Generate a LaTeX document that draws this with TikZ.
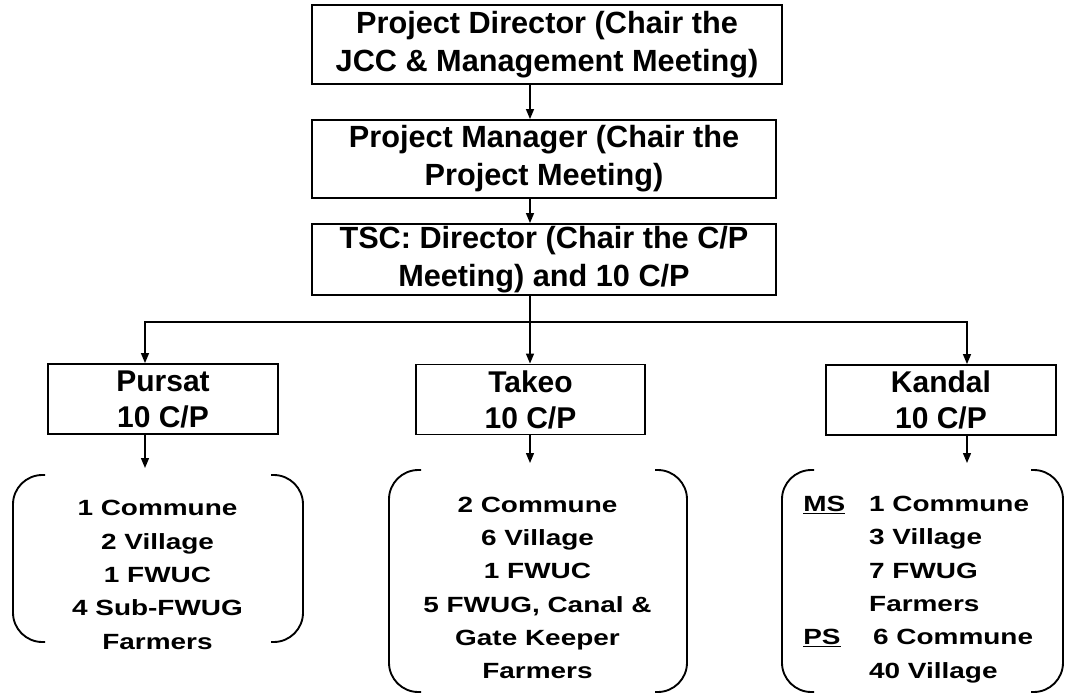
\documentclass[tikz,border=0pt]{standalone}
\usepackage{fontspec}
\setmainfont{Liberation Sans}
\newfontfamily\listfont{Liberation Sans}[FakeStretch=1.27]
\usetikzlibrary{arrows.meta}

% left/right brackets round a list, and the point its arrow ends at
\newcommand{\listbrackets}[5]{%
  \draw[bracket] ({#2+32},#4) -- (#2,#4) -- (#2,#5) -- ({#2+32},#5);
  \draw[bracket] ({#3-32},#4) -- (#3,#4) -- (#3,#5) -- ({#3-32},#5);
  \coordinate (#1) at ({(#2+#3)/2},{#4-7});
}

\tikzset{
  box/.style={draw,line width=1.4pt,align=center,inner sep=0pt,
    font=\bfseries\fontsize{23}{28.5}\selectfont},
  area/.style={box,minimum width=172pt,minimum height=52.5pt,
    font=\bfseries\fontsize{22.5}{27}\selectfont},
  items/.style={align=center,inner sep=0pt,
    font=\listfont\bfseries\fontsize{16.5}{25}\selectfont},
  bracket/.style={line width=1.4pt,rounded corners=22pt},
  arr/.style={-{Triangle[length=7.5pt,width=6pt]},line width=1pt}
}

\begin{document}
\begin{tikzpicture}[x=0.75pt,y=-0.75pt]
\useasboundingbox (0,0) rectangle (1065,694);

% columns of the connectors
\coordinate (left) at (145,0);
\coordinate (spine) at (530,0);
\coordinate (right) at (967,0);
\coordinate (bus) at (530,322);

% chain of command
\node[box,minimum width=352.5pt,minimum height=59.25pt] (director) at (547,44.5)
  {Project Director (Chair the\\JCC \& Management Meeting)};
\node[box,minimum width=348pt,minimum height=58.5pt] (manager) at (544,159)
  {Project Manager (Chair the\\Project Meeting)};
\node[box,minimum width=348pt,minimum height=53.25pt] (tsc) at (544,259.5)
  {TSC: Director (Chair the C/P\\Meeting) and 10 C/P};

% provinces
\node[area] (pursat) at (163,399) {Pursat\\10 C/P};
\node[area] (takeo) at (530.5,399.5) {Takeo\\10 C/P};
\node[area] (kandal) at (941,400) {Kandal\\10 C/P};

% sites
\node[items] (pursatlist) at (157.5,575)
  {1 Commune\\2 Village\\1 FWUC\\4 Sub-FWUG\\Farmers};
\node[items] (takeolist) at (537.5,588)
  {2 Commune\\6 Village\\1 FWUC\\5 FWUG, Canal \&\\Gate Keeper\\Farmers};
\node[items,anchor=west] (kandallist) at (803,588)
  {\begin{tabular}{@{}l@{\hspace{18pt}}l@{}}
    \underline{MS} & 1 Commune\\
     & 3 Village\\
     & 7 FWUG\\
     & Farmers\\
    \underline{PS} & \hspace{3pt}6 Commune\\
     & 40 Village
  \end{tabular}};

\listbrackets{pursattop}{13}{303}{475}{642}
\listbrackets{takeotop}{389}{687}{470}{692}
\listbrackets{kandaltop}{782}{1063}{470}{692}

% connectors
\draw[arr] (director.south -| spine) -- (manager.north -| spine);
\draw[arr] (manager.south -| spine) -- (tsc.north -| spine);
\draw[line width=1pt] (tsc.south -| spine) -- (bus);
\draw[arr] (bus) -- (bus -| left) -- (pursat.north -| left);
\draw[arr] (bus) -- (takeo.north -| spine);
\draw[arr] (bus) -- (bus -| right) -- (kandal.north -| right);
\draw[arr] (pursat.south -| left) -- (pursattop -| left);
\draw[arr] (takeo.south -| spine) -- (takeotop -| spine);
\draw[arr] (kandal.south -| right) -- (kandaltop -| right);
\end{tikzpicture}
\end{document}
